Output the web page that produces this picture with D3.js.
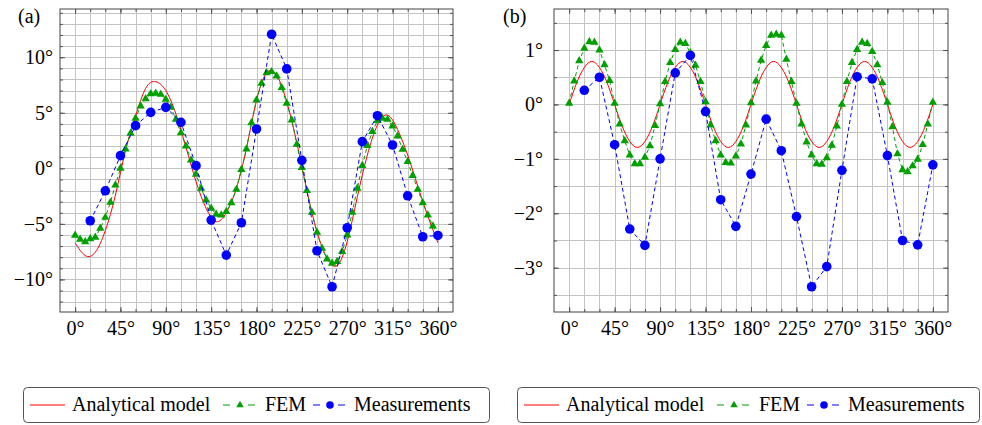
<!DOCTYPE html>
<html lang="en">
<head>
<meta charset="UTF-8" />
<title>Analytical model, FEM and measurements</title>
<script src="https://d3js.org/d3.v7.min.js"></script>
<style>
  body { margin: 0; background: #fff; }
  svg { display: block; font-family: 'Liberation Serif', 'Times New Roman', serif; }
  .lbl text { font-size: 20px; fill: #000; font-family: 'Liberation Serif', 'Times New Roman', serif; }
  .lbl path { display: none; }
  .grid line { stroke: #c4c4c4; shape-rendering: crispEdges; }
  .grid path { display: none; }
  .ticks line { stroke: #555; }
  .ticks path { display: none; }
</style>
</head>
<body>
<svg width="982" height="425"></svg>
<script>
// ---- data (degrees) ----
const modelAnglesA = d3.range(0, 361, 10);
const modelA = [-6.7, -7.85, -7.55, -5.6, -2.4, 1.6, 4.7, 7.2, 7.8, 7.0,
  4.9, 1.9, -1.2, -3.6, -4.8, -4.0, -1.8, 1.8, 6.1, 8.6,
  8.4, 6.0, 2.3, -2.0, -5.7, -8.1, -8.75, -6.6, -2.6, 1.2,
  3.9, 4.8, 3.5, 1.2, -1.6, -4.3, -6.7];

const femAngles = d3.range(0, 361, 5);
const femA = [-6.04, -6.40, -6.61, -6.34, -6.22, -5.41, -4.42, -3.07, -1.50, 0.00,
  1.74, 3.15, 4.50, 5.60, 6.25, 6.70, 6.75, 6.65, 6.20, 5.50,
  4.40, 3.20, 2.00, 0.75, -0.54, -1.80, -2.86, -3.60, -4.14, -4.20,
  -3.90, -3.10, -1.90, -0.12, 1.74, 4.10, 6.15, 7.66, 8.60, 8.70,
  8.30, 7.26, 5.85, 4.35, 2.16, 0.06, -2.00, -3.97, -5.77, -7.20,
  -8.17, -8.56, -8.40, -7.50, -6.00, -3.97, -1.80, 0.24, 2.04, 3.30,
  4.29, 4.50, 4.40, 3.80, 2.90, 1.70, 0.60, -0.66, -1.90, -3.10,
  -4.20, -5.20, -6.04];

const measAngles = d3.range(15, 361, 15);
const measA = [-4.72, -2.02, 1.14, 3.84, 5.04, 5.49, 4.14, 0.24, -4.66, -7.81, -4.9, 3.54,
  12.07, 8.95, 0.72, -7.42, -10.66, -5.35, 2.4, 4.74, 2.1, -2.47, -6.16, -6.04];

const modelAnglesB = d3.range(0, 361, 7.5);
const modelB = [0, 0.40, 0.68, 0.79, 0.68, 0.40, 0, -0.40, -0.68, -0.79, -0.68, -0.40,
  0, 0.40, 0.68, 0.79, 0.68, 0.40, 0, -0.40, -0.68, -0.79, -0.68, -0.40,
  0, 0.40, 0.68, 0.79, 0.68, 0.40, 0, -0.40, -0.68, -0.79, -0.68, -0.40,
  0, 0.40, 0.68, 0.79, 0.68, 0.40, 0, -0.40, -0.68, -0.79, -0.68, -0.40, 0];

const femB = [0.02, 0.43, 0.80, 1.03, 1.15, 1.14, 1.00, 0.73, 0.44, 0.02,
  -0.36, -0.67, -0.93, -1.09, -1.09, -0.97, -0.76, -0.39, 0.01, 0.42,
  0.77, 1.01, 1.14, 1.12, 0.95, 0.72, 0.42, 0.05, -0.38, -0.67,
  -0.93, -1.07, -1.08, -0.95, -0.73, -0.38, 0.03, 0.43, 0.81, 1.08,
  1.27, 1.29, 1.27, 0.83, 0.42, 0.02, -0.36, -0.69, -0.93, -1.09,
  -1.10, -0.98, -0.75, -0.40, 0.00, 0.42, 0.77, 1.01, 1.14, 1.12,
  0.97, 0.73, 0.40, 0.04, -0.41, -0.91, -1.20, -1.24, -1.13, -1.01,
  -0.74, -0.36, 0.04];

const measB = [0.26, 0.5, -0.74, -2.29, -2.59, -1.0, 0.58, 0.9, -0.13, -1.75, -2.24, -1.28,
  -0.27, -0.85, -2.06, -3.35, -2.98, -1.21, 0.51, 0.47, -0.94, -2.5, -2.58, -1.11];

const xTicks = [0, 45, 90, 135, 180, 225, 270, 315, 360];
const yTicksA = [-10, -5, 0, 5, 10];
const yTicksB = [-3, -2, -1, 0, 1];
const legendLabels = ["Analytical model", "FEM", "Measurements"];

const red = "#ff0000", green = "#00a000", blue = "#0000ff";
const svg = d3.select("svg");
const plotTop = 9, plotBottom = 312;
const degFmt = d => (d < 0 ? "\u2212" : "") + Math.abs(d) + "\u00b0";

function drawPanel(p) {
  const all = p.model.concat(p.fem, p.meas);
  const [lo, hi] = d3.extent(all);
  const pad = (hi - lo) * 0.1;
  const x = d3.scaleLinear().domain([-15, 375]).range([p.left, p.right]);
  const y = d3.scaleLinear().domain([lo - pad, hi + pad]).range([plotBottom, plotTop]);
  const g = svg.append("g");
  const w = p.right - p.left, h = plotBottom - plotTop;

  const xMinor = d3.range(0, 361, 15);
  const yMinor = d3.range(Math.ceil((lo - pad) / p.minor) * p.minor, hi + pad, p.minor);

  // grid
  g.append("g").attr("class", "grid").attr("transform", `translate(0,${plotBottom})`)
    .call(d3.axisBottom(x).tickValues(xMinor).tickSize(-h).tickFormat(""));
  g.append("g").attr("class", "grid").attr("transform", `translate(${p.left},0)`)
    .call(d3.axisLeft(y).tickValues(yMinor).tickSize(-w).tickFormat(""));

  // inward ticks on all sides
  const tk = (axis, tr, vals, len) => g.append("g").attr("class", "ticks").attr("transform", tr)
    .call(axis.tickValues(vals).tickSize(-len).tickFormat(""));
  tk(d3.axisBottom(x), `translate(0,${plotBottom})`, xMinor, 3);
  tk(d3.axisBottom(x), `translate(0,${plotBottom})`, xTicks, 5);
  tk(d3.axisTop(x), `translate(0,${plotTop})`, xMinor, 3);
  tk(d3.axisTop(x), `translate(0,${plotTop})`, xTicks, 5);
  tk(d3.axisLeft(y), `translate(${p.left},0)`, yMinor, 3);
  tk(d3.axisLeft(y), `translate(${p.left},0)`, p.yTicks, 5);
  tk(d3.axisRight(y), `translate(${p.right},0)`, yMinor, 3);
  tk(d3.axisRight(y), `translate(${p.right},0)`, p.yTicks, 5);

  // labels
  g.append("g").attr("class", "lbl").attr("transform", `translate(0,${plotBottom})`)
    .call(d3.axisBottom(x).tickValues(xTicks).tickSize(0).tickPadding(9).tickFormat(degFmt));
  g.append("g").attr("class", "lbl").attr("transform", `translate(${p.left},0)`)
    .call(d3.axisLeft(y).tickValues(p.yTicks).tickSize(0).tickPadding(p.labelPad).tickFormat(degFmt));

  g.append("rect").attr("x", p.left).attr("y", plotTop).attr("width", w).attr("height", h)
    .attr("fill", "none").attr("stroke", "#444").attr("stroke-width", 1);

  g.append("text").attr("x", p.labelX).attr("y", 23).attr("font-size", 20).text(p.label);

  const line = d3.line().x(d => x(d[0])).y(d => y(d[1]));

  // analytical model
  g.append("path").datum(d3.zip(p.modelAngles, p.model))
    .attr("d", line.curve(d3.curveNatural)).attr("fill", "none")
    .attr("stroke", red).attr("stroke-width", 1);

  // FEM
  const femPts = d3.zip(femAngles, p.fem);
  g.append("path").datum(femPts).attr("d", line.curve(d3.curveLinear)).attr("fill", "none")
    .attr("stroke", green).attr("stroke-width", 1).attr("stroke-dasharray", "4,3");
  g.selectAll(null).data(femPts).join("path")
    .attr("d", d3.symbol(d3.symbolTriangle, 30))
    .attr("transform", d => `translate(${x(d[0])},${y(d[1])})`)
    .attr("fill", green);

  // measurements
  const measPts = d3.zip(measAngles, p.meas);
  g.append("path").datum(measPts).attr("d", line.curve(d3.curveLinear)).attr("fill", "none")
    .attr("stroke", blue).attr("stroke-width", 1).attr("stroke-dasharray", "4,3");
  g.selectAll(null).data(measPts).join("circle")
    .attr("cx", d => x(d[0])).attr("cy", d => y(d[1])).attr("r", 4.8)
    .attr("fill", blue);

  drawLegend(p.legendX, p.legendW);
}

function drawLegend(lx, lw) {
  const ly = 387.5, lh = 35, cy = 405, ty = 410.5;
  const lg = svg.append("g");
  lg.append("rect").attr("x", lx + 0.5).attr("y", ly).attr("width", lw).attr("height", lh)
    .attr("rx", 4).attr("fill", "#fff").attr("stroke", "#555");

  lg.append("line").attr("x1", lx + 7).attr("x2", lx + 42).attr("y1", cy).attr("y2", cy)
    .attr("stroke", red);

  const sample = (sx, color) => {
    lg.append("line").attr("x1", sx).attr("x2", sx + 7).attr("y1", cy).attr("y2", cy).attr("stroke", color);
    lg.append("line").attr("x1", sx + 25).attr("x2", sx + 32).attr("y1", cy).attr("y2", cy).attr("stroke", color);
  };
  sample(lx + 200, green);
  lg.append("path").attr("d", d3.symbol(d3.symbolTriangle, 24))
    .attr("transform", `translate(${lx + 217},${cy})`).attr("fill", green);
  sample(lx + 290, blue);
  lg.append("circle").attr("cx", lx + 307).attr("cy", cy).attr("r", 3.8).attr("fill", blue);

  const textX = [49, 242, 331];
  legendLabels.forEach((t, i) => {
    lg.append("text").attr("x", lx + textX[i]).attr("y", ty).attr("font-size", 20).text(t);
  });
}

drawPanel({ label: "(a)", labelX: 18, left: 60, right: 453, minor: 1, yTicks: yTicksA, labelPad: 7,
  modelAngles: modelAnglesA, model: modelA, fem: femA, meas: measA, legendX: 23, legendW: 466 });
drawPanel({ label: "(b)", labelX: 503, left: 554, right: 948, minor: 0.5, yTicks: yTicksB, labelPad: 11,
  modelAngles: modelAnglesB, model: modelB, fem: femB, meas: measB, legendX: 517, legendW: 462 });
</script>
</body>
</html>
